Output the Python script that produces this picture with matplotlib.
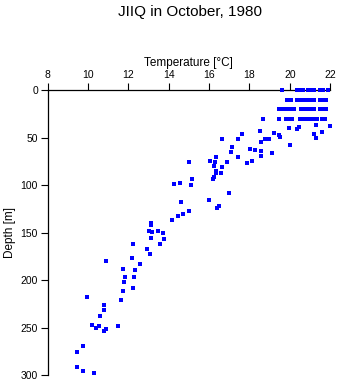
# temperature profile scatter, JIIQ October 1980
import matplotlib
matplotlib.use('Agg')
from matplotlib import pyplot as plt

# near-surface rows (depth 0, 10, 20, 30 m)
row_depths = [0, 10, 20, 30]
row_temps = [
    [19.6, 20.35, 20.5, 20.65, 20.9, 21.05, 21.2, 21.5, 21.65, 21.9],
    [19.85, 20.05, 20.35, 20.5, 20.72, 20.9, 21.05, 21.2, 21.48, 21.62, 21.8],
    [19.45, 19.55, 19.75, 19.9, 20.05, 20.2, 20.55, 20.7, 20.85, 21.05, 21.2,
     21.5, 21.65, 21.8],
    [18.65, 19.48, 19.8, 19.95, 20.1, 20.5, 20.65, 20.85, 21.0, 21.15, 21.35, 21.6, 21.75],
]

# deeper samples
deep_temp = [21.3, 22.0, 19.98, 20.45, 20.37, 18.5, 19.2, 19.45, 19.5, 21.2, 21.3, 21.6,
             18.57, 18.77, 18.99, 20.0, 18.03, 18.3, 18.56,
             16.63, 17.65, 17.45, 17.12, 17.09, 19.14, 16.36, 17.45, 18.56, 15.02, 16.06,
             16.31, 16.9, 18.15, 17.88, 16.25, 16.66, 16.35, 16.35, 16.6, 16.26, 16.2,
             15.17, 14.56, 14.28, 15.12, 16.99, 14.62, 16.01, 16.51, 16.4,
             15.0, 14.72, 14.48, 14.15, 13.14, 13.14, 13.04, 13.17, 13.48, 13.73, 13.14,
             13.77, 12.25, 13.58, 12.92, 13.09, 12.2, 10.89, 12.58, 11.75, 12.33, 11.85,
             12.3, 11.8, 12.21, 11.75, 11.65, 9.93, 10.81, 10.78, 10.61, 10.21, 10.56,
             10.41, 10.89, 10.81, 11.5, 9.77, 9.47, 9.45, 9.77, 10.3]
deep_depth = [36.5, 38, 40, 39, 41, 43.5, 45, 47.7, 49.5, 46.7, 50.5, 44,
              54.7, 51, 51, 57.5, 61.8, 62.8, 64,
              51, 46, 51, 59.6, 65.6, 66.7, 70.8, 70.8, 69.8, 75.4, 74.4,
              75.4, 75.4, 74.4, 77.2, 79.6, 81.4, 85, 87.7, 87.7, 91, 94,
              93.5, 98.2, 99.3, 100.3, 108.8, 118.2, 115.8, 121.8, 124.6,
              127.4, 130.8, 132.3, 137.2, 139.7, 142.1, 148.4, 149.8, 148.4, 150.9, 156.1,
              157.2, 162.4, 162.4, 167.4, 172.3, 176.5, 180, 183.5, 188.8, 189.5, 197.2,
              196.5, 201.8, 208.1, 211.3, 221.4, 218.2, 226.3, 231.6, 237.9, 247.4, 248.4,
              250.2, 251.9, 253.4, 248.4, 269.2, 275.5, 291.3, 296.1, 298.2]

x_ticks = [8, 10, 12, 14, 16, 18, 20, 22]
y_ticks = [0, 50, 100, 150, 200, 250, 300]

plt.rcParams['font.family'] = ['Liberation Sans', 'DejaVu Sans']

fig = plt.figure(figsize=(3.41, 3.84), dpi=100)
ax = fig.add_axes([0.14, 0.0234, 0.828, 0.742])

T = []
D = []
for d, temps in zip(row_depths, row_temps):
    T += temps
    D += [d] * len(temps)
T += deep_temp
D += deep_depth

ax.plot(T, D, 's', color='#0000ff', markersize=2.2, markeredgewidth=0, clip_on=False, zorder=3)

ax.set_xlim(8, 22)
ax.set_ylim(300, 0)
ax.xaxis.tick_top()
ax.xaxis.set_label_position('top')
ax.set_xticks(x_ticks)
ax.set_yticks(y_ticks)
ax.tick_params(axis='both', labelsize=7.5, length=5, width=0.8, direction='out', pad=2)
ax.spines['right'].set_visible(False)
ax.spines['bottom'].set_visible(False)
ax.spines['top'].set_linewidth(0.9)
ax.spines['left'].set_linewidth(0.9)
ax.set_xlabel('Temperature [°C]', fontsize=8.5, labelpad=3)
ax.set_ylabel('Depth [m]', fontsize=8.5, labelpad=3)

fig.text(0.557, 0.968, 'JIIQ in October, 1980', ha='center', va='center', fontsize=11)

plt.savefig('out.png', dpi=100)
